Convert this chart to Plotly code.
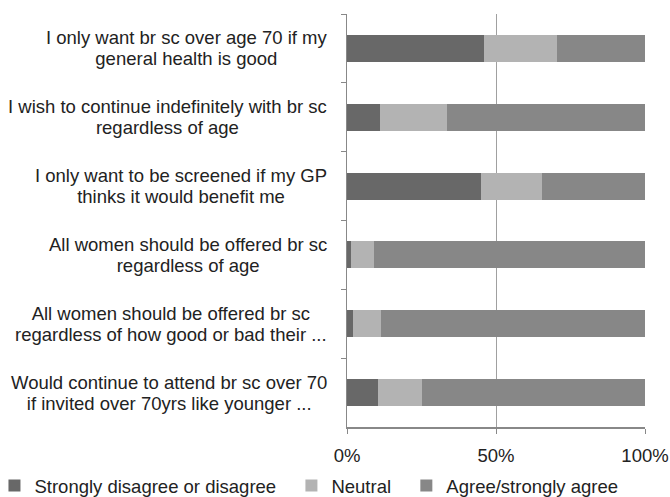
import plotly.graph_objects as go

categories = [
    "I only want br sc over age 70 if my<br>general health is good",
    "I wish to continue indefinitely with br sc<br>regardless of age",
    "I only want to be screened if my GP<br>thinks it would benefit me",
    "All women should be offered br sc<br>regardless of age",
    "All women should be offered br sc<br>regardless of how good or bad their ...",
    "Would continue to attend br sc over 70<br>if invited over 70yrs like younger ...",
]
disagree = [46, 11, 45, 1.5, 2, 10.5]
neutral = [24.5, 22.5, 20.5, 7.5, 9.5, 14.5]
agree = [29.5, 66.5, 34.5, 91, 88.5, 75]

series_names = ["Strongly disagree or disagree", "Neutral", "Agree/strongly agree"]
series_values = [disagree, neutral, agree]
colors = ["#686868", "#b3b3b3", "#878787"]
legend_pad = ["\u00a0\u00a0", "\u00a0\u00a0", ""]

FONT = "Liberation Sans, Arial, Helvetica, sans-serif"

fig = go.Figure()
for name, vals, col, pad in zip(series_names, series_values, colors, legend_pad):
    fig.add_trace(go.Bar(
        y=categories, x=vals, name=name + pad, orientation="h",
        marker=dict(color=col, line=dict(width=0)), width=0.39,
    ))

# category labels: centred two-line blocks with tight line spacing
annotations = []
for cat in categories:
    lines = cat.split("<br>")
    txt = "<br>".join('<span style="font-size:18.5px">%s</span>' % ln for ln in lines)
    annotations.append(dict(
        x=0, xref="paper", y=cat, yref="y", text=txt, showarrow=False,
        xanchor="right", yanchor="middle", align="center", xshift=-18,
        font=dict(size=16.2, color="#222222", family=FONT),
    ))

fig.update_layout(
    barmode="stack",
    width=670, height=497,
    margin=dict(l=347, r=25, t=14, b=70, autoexpand=False),
    plot_bgcolor="white", paper_bgcolor="white",
    font=dict(family=FONT, size=18.5, color="#222222"),
    showlegend=True,
    legend=dict(orientation="h", x=-1.183, xanchor="left", y=-0.143, yanchor="middle",
                font=dict(size=18.5), traceorder="normal", itemwidth=30),
    annotations=annotations,
)
fig.update_xaxes(range=[0, 100], tickvals=[0, 50, 100], ticktext=["0%", "50%", "100%"],
                 showgrid=True, gridcolor="#a0a0a0", gridwidth=1,
                 ticks="outside", ticklen=5, tickcolor="#888888",
                 showline=True, linecolor="#888888", linewidth=1.5,
                 zeroline=False, tickfont=dict(size=18.5),
                 ticklabelstandoff=6)
fig.update_yaxes(autorange="reversed", showline=True, linecolor="#888888", linewidth=1,
                 ticks="outside", ticklen=5, tickcolor="#888888", tickson="boundaries",
                 showgrid=False, showticklabels=False)

fig.write_html("out.html", config={"displayModeBar": False},
               post_script="document.body.style.margin='0';")
